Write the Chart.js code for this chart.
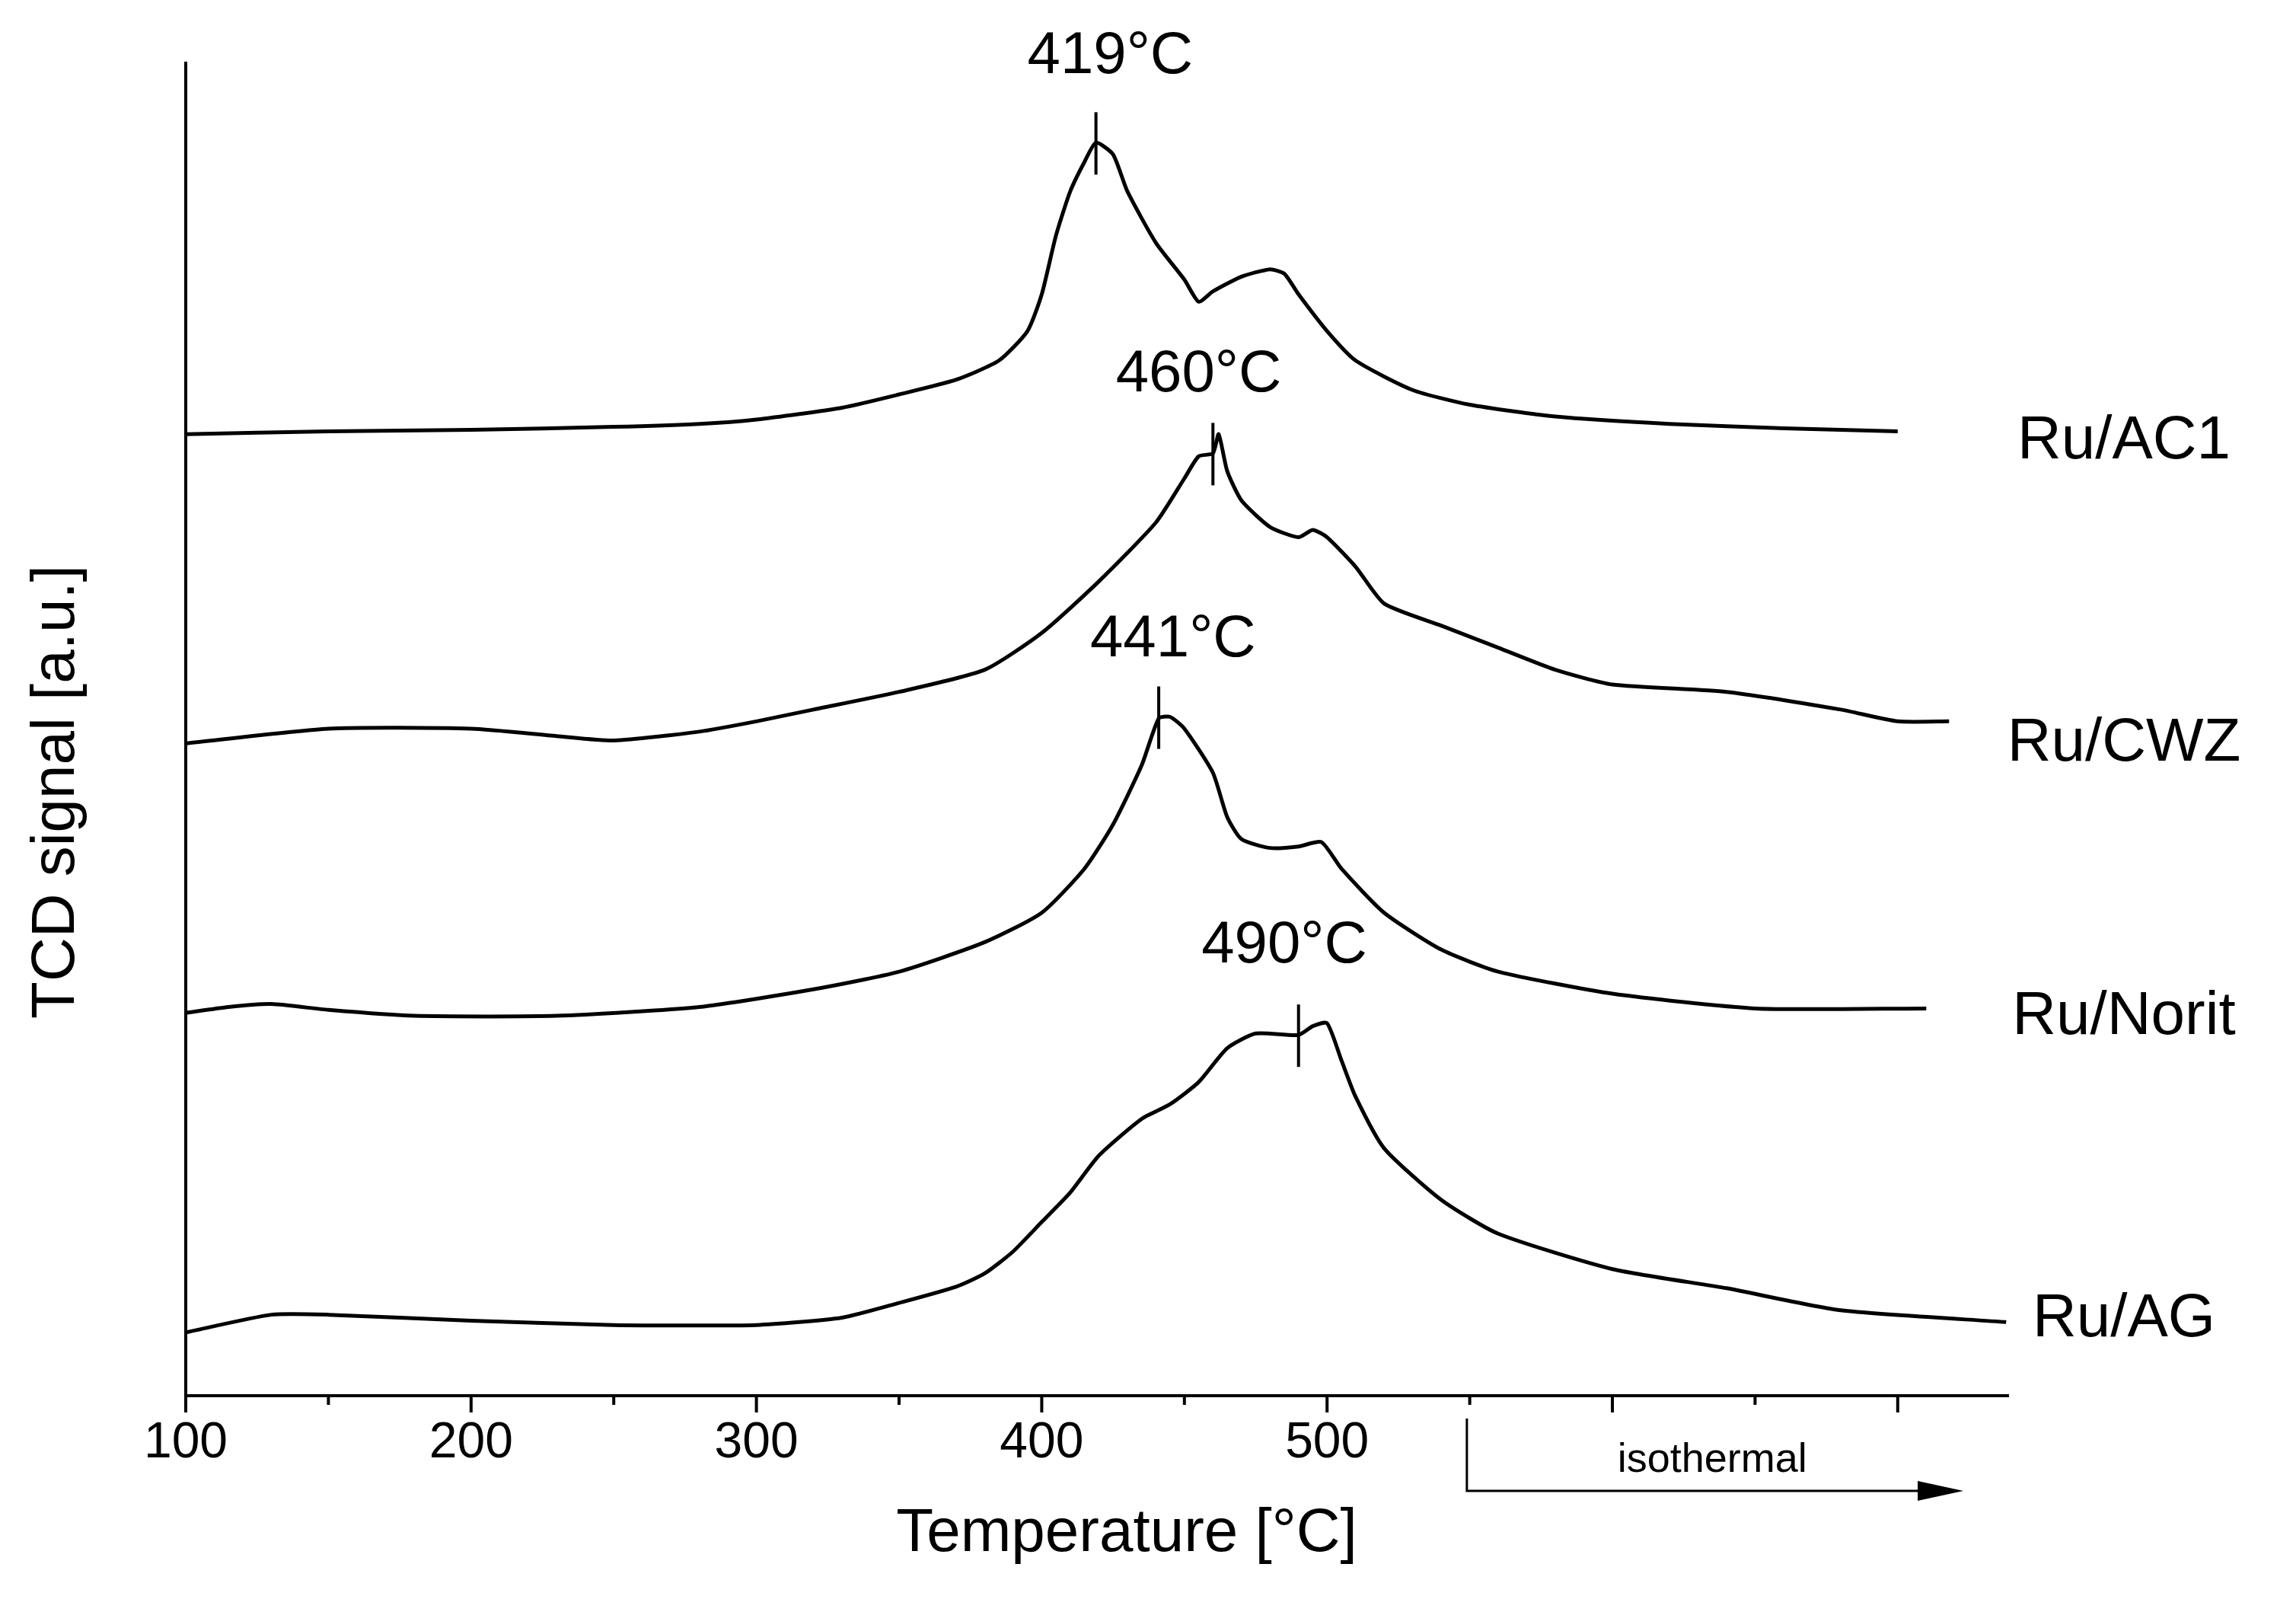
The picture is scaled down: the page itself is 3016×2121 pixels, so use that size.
<!DOCTYPE html>
<html>
<head>
<meta charset="utf-8">
<script src="https://cdn.jsdelivr.net/npm/chart.js@4"></script>
<style>
  body{ margin:0; background:#fff; }
  canvas{ display:block; }
</style>
</head>
<body>
<canvas id="c" width="3016" height="2121"></canvas>
<script>
// values are signal heights (a.u.)
const seriesNames = ['Ru/AC1', 'Ru/CWZ', 'Ru/Norit', 'Ru/AG'];
const ac1T = [100,150,200,250,280,300,330,350,370,385,395,400,405,410,415,419,425,430,440,450,455,460,470,480,485,490,500,510,530,550,580,620,660,700];
const ac1Y = [653,655,656,658,660,663,671,680,690,703,723,748,788,818,838,851,843,818,783,758,743,750,760,765,762,748,723,703,683,673,665,660,657,655];
const cwzT = [100,150,200,230,250,280,300,320,350,380,400,420,440,450,455,460,462,465,470,480,490,495,500,510,520,540,560,580,600,640,680,700,718];
const cwzY = [443,453,453,448,445,451,458,466,478,493,518,553,593,623,638,640,653,628,608,590,583,588,583,563,538,523,508,493,483,478,466,458,458];
const noritT = [100,115,130,150,180,230,280,320,350,380,400,415,425,435,441,445,450,460,465,470,480,490,498,505,520,540,560,600,650,710];
const noritY = [260,264,266,262,258,258,264,276,288,308,328,358,388,428,460,461,453,423,393,378,372,373,376,358,328,303,288,273,263,263];
const agT = [100,130,150,200,250,300,330,350,370,380,390,400,410,420,435,445,455,465,475,490,495,500,505,510,520,540,560,600,640,680,738];
const agY = [43,55,55,51,48,48,53,63,74,83,98,118,138,163,188,198,213,236,246,245,251,253,228,203,168,133,110,86,73,58,50];
const peaks = [
  { t:419, y:851, label:'419°C', lx:424, ly:898 },
  { t:460, y:640, label:'460°C', lx:455, ly:682 },
  { t:441, y:461, label:'441°C', lx:446, ly:502 },
  { t:490, y:245, label:'490°C', lx:485, ly:294 }
];
const labelY = [653, 448, 262, 57];
const tickLabels = [100, 200, 300, 400, 500];

const FONT = '"Liberation Sans", Arial, sans-serif';

function pts(t, y){ return t.map((v, i) => ({ x: v, y: y[i] })); }

const decor = {
  id: 'decor',
  afterDraw(chart){
    const { ctx, chartArea: a, scales: { x, y } } = chart;
    ctx.save();
    ctx.strokeStyle = '#000';
    ctx.fillStyle = '#000';
    ctx.lineWidth = 4;
    // axes
    ctx.beginPath();
    ctx.moveTo(a.left, a.top); ctx.lineTo(a.left, a.bottom); ctx.lineTo(a.right, a.bottom);
    ctx.stroke();
    // x ticks
    for(let t = 100; t <= 740; t += 50){
      const px = x.getPixelForValue(t);
      const major = t % 100 === 0;
      ctx.beginPath(); ctx.moveTo(px, a.bottom); ctx.lineTo(px, a.bottom + (major ? 22 : 12)); ctx.stroke();
    }
    ctx.font = '66px ' + FONT;
    ctx.textAlign = 'center'; ctx.textBaseline = 'top';
    tickLabels.forEach(t => ctx.fillText(String(t), x.getPixelForValue(t), a.bottom + 30));
    ctx.font = '80px ' + FONT;
    ctx.fillText('Temperature [°C]', 1480, 1975);
    ctx.save();
    ctx.translate(75, 1040); ctx.rotate(-Math.PI/2);
    ctx.textBaseline = 'middle';
    ctx.fillText('TCD signal [a.u.]', 0, 0);
    ctx.restore();
    // series labels
    ctx.font = '80px ' + FONT;
    ctx.textAlign = 'center'; ctx.textBaseline = 'middle';
    seriesNames.forEach((n, i) => ctx.fillText(n, 2790, y.getPixelForValue(labelY[i]) + 10));
    // peak markers
    ctx.font = '78px ' + FONT;
    ctx.textBaseline = 'alphabetic';
    peaks.forEach(p => {
      const px = x.getPixelForValue(p.t), py = y.getPixelForValue(p.y);
      ctx.beginPath(); ctx.moveTo(px, py - 40); ctx.lineTo(px, py + 42); ctx.stroke();
      ctx.fillText(p.label, x.getPixelForValue(p.lx), y.getPixelForValue(p.ly));
    });
    // isothermal arrow
    const x0 = x.getPixelForValue(549), x1 = x.getPixelForValue(723);
    const yb = a.bottom + 125;
    ctx.lineWidth = 3;
    ctx.beginPath(); ctx.moveTo(x0, a.bottom + 30); ctx.lineTo(x0, yb); ctx.lineTo(x1 - 30, yb); ctx.stroke();
    ctx.beginPath(); ctx.moveTo(x1, yb); ctx.lineTo(x1 - 60, yb - 13); ctx.lineTo(x1 - 60, yb + 13); ctx.closePath(); ctx.fill();
    ctx.font = '54px ' + FONT;
    ctx.textAlign = 'center';
    ctx.fillText('isothermal', x.getPixelForValue(635), a.bottom + 100);
    ctx.restore();
  }
};

const mk = (label, data) => ({ label, data, borderColor: '#000', borderWidth: 5, pointRadius: 0, tension: 0.2, fill: false });

new Chart(document.getElementById('c'), {
  type: 'line',
  data: {
    datasets: [
      mk(seriesNames[0], pts(ac1T, ac1Y)),
      mk(seriesNames[1], pts(cwzT, cwzY)),
      mk(seriesNames[2], pts(noritT, noritY)),
      mk(seriesNames[3], pts(agT, agY))
    ]
  },
  options: {
    responsive: false,
    devicePixelRatio: 1,
    animation: false,
    layout: { padding: { left: 244, top: 81, right: 377, bottom: 288 } },
    plugins: { legend: { display: false }, tooltip: { enabled: false } },
    scales: {
      x: { type: 'linear', min: 100, max: 739, display: false },
      y: { min: 0, max: 906, display: false }
    }
  },
  plugins: [decor]
});
</script>
</body>
</html>
